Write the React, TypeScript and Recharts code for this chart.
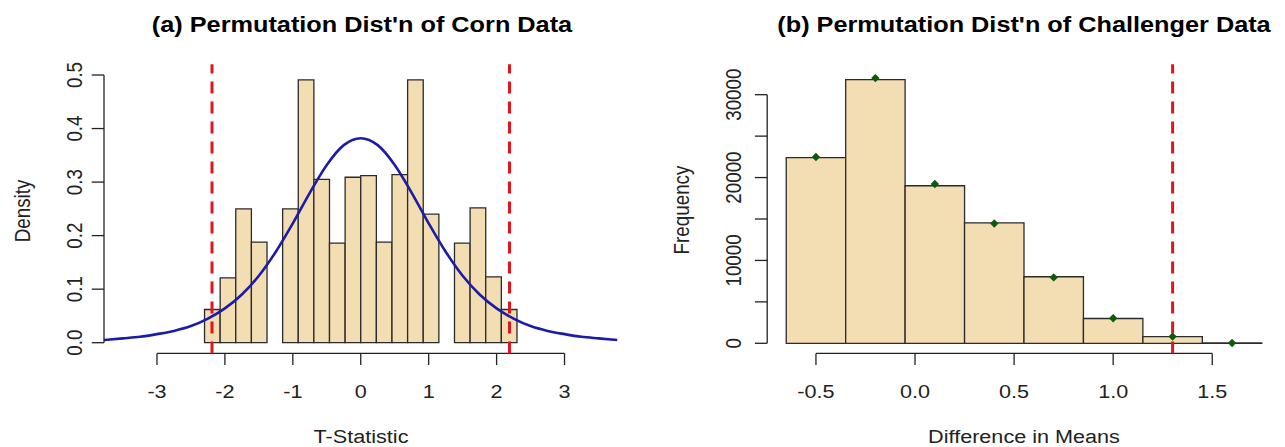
import React from 'react';
import { ComposedChart, Line, Scatter, XAxis, YAxis, ReferenceArea, ReferenceLine } from 'recharts';

const FONT = '"Liberation Sans", Arial, Helvetica, sans-serif';
const STRETCH = 1.15; // the original picture is a bit wider than tall
const INK = '#222';
const WHEAT = '#F3DDB3';

// (a) corn data — histogram bin edges and densities
const cornEdges = [-2.3, -2.07, -1.84, -1.61, -1.38, -1.15, -0.92, -0.69, -0.46, -0.23, 0, 0.23, 0.46, 0.69, 0.92, 1.15, 1.38, 1.61, 1.84, 2.07, 2.3];
const cornDensity = [0.062, 0.121, 0.25, 0.188, 0, 0.25, 0.491, 0.305, 0.186, 0.309, 0.312, 0.188, 0.314, 0.491, 0.24, 0, 0.186, 0.252, 0.123, 0.062];
// overlaid density curve
const curveX = [-3.78, -3.5, -3.25, -3, -2.75, -2.5, -2.25, -2, -1.75, -1.5, -1.25, -1, -0.75, -0.5, -0.25, 0, 0.25, 0.5, 0.75, 1, 1.25, 1.5, 1.75, 2, 2.25, 2.5, 2.75, 3, 3.25, 3.5, 3.78];
const curveY = [0.005, 0.008, 0.011, 0.016, 0.022, 0.031, 0.045, 0.064, 0.09, 0.125, 0.17, 0.223, 0.28, 0.332, 0.369, 0.382, 0.369, 0.332, 0.28, 0.223, 0.17, 0.125, 0.09, 0.064, 0.045, 0.031, 0.022, 0.016, 0.011, 0.008, 0.005];
const cornCutoffs = [-2.19, 2.19];
const cornXTicks = [-3, -2, -1, 0, 1, 2, 3];
const cornYTicks = [0, 0.1, 0.2, 0.3, 0.4, 0.5];

// (b) challenger data — frequency histogram and points
const challEdges = [-0.65, -0.35, -0.05, 0.25, 0.55, 0.85, 1.15, 1.45, 1.75];
const challCounts = [22410, 31810, 19010, 14540, 8030, 2990, 810, 40];
const pointX = [-0.5, -0.2, 0.1, 0.4, 0.7, 1.0, 1.3, 1.6];
const pointY = [22490, 32000, 19220, 14460, 7950, 3030, 810, 40];
const challCutoff = 1.3;
const challXTicks = [-0.5, 0, 0.5, 1, 1.5];
const challYTicks = [0, 5000, 10000, 15000, 20000, 25000, 30000];

const curve = curveX.map((x, i) => ({ x, y: curveY[i] }));
const points = pointX.map((x, i) => ({ x, y: pointY[i] }));

const XTick = (props: any, fmt: (v: number) => string) => (
  <g transform={`translate(${props.x},398.3) scale(${STRETCH},1)`}>
    <text x={0} y={0} textAnchor="middle" fontFamily={FONT} fontSize={18.8} fill={INK}>
      {fmt(props.payload.value)}
    </text>
  </g>
);

const YTick = (props: any, bx: number, show: (v: number) => boolean) => {
  const v = props.payload.value;
  if (!show(v)) return <g />;
  return (
    <g transform={`translate(${bx},${props.y}) scale(${STRETCH},1) rotate(-90)`}>
      <text x={0} y={0} textAnchor="middle" fontFamily={FONT} fontSize={18.8} fill={INK}>
        {Number.isInteger(v) && v !== 0 && v < 1 ? v : v >= 1 || v === 0 && bx > 90 ? String(v) : v.toFixed(1)}
      </text>
    </g>
  );
};

const dash = '12 8';

const CornChart = () => (
  <ComposedChart width={642} height={447} margin={{ top: 64.3, right: 24.5, bottom: 53.6, left: 0 }}>
    <XAxis type="number" dataKey="x" domain={[-3.78, 3.78]} ticks={cornXTicks} allowDataOverflow interval={0}
      axisLine={false} tickLine={{ stroke: INK, strokeWidth: 1.3 }} tickSize={11.7} height={40}
      tick={(p: any) => XTick(p, (v) => String(v))} />
    <YAxis type="number" domain={[-0.02, 0.52]} ticks={cornYTicks} allowDataOverflow interval={0}
      axisLine={false} tickLine={{ stroke: INK, strokeWidth: 1.3 }} tickSize={12.3} width={104}
      tick={(p: any) => YTick(p, 81.5, () => true)} />
    {cornDensity.map((d, i) =>
      d > 0 ? (
        <ReferenceArea key={i} x1={cornEdges[i]} x2={cornEdges[i + 1]} y1={0} y2={d}
          fill={WHEAT} fillOpacity={1} stroke="#2b2b2b" strokeWidth={1.3} ifOverflow="visible" />
      ) : null
    )}
    <Line data={curve} dataKey="y" type="monotone" stroke="#1c1ca8" strokeWidth={2.6} dot={false}
      isAnimationActive={false} />
    <ReferenceLine segment={[{ x: -3, y: -0.02 }, { x: 3, y: -0.02 }]} stroke={INK} strokeWidth={1.3} ifOverflow="visible" />
    <ReferenceLine segment={[{ x: -3.78, y: 0 }, { x: -3.78, y: 0.5 }]} stroke={INK} strokeWidth={1.3} ifOverflow="visible" />
    {cornCutoffs.map((c) => (
      <ReferenceLine key={c} segment={[{ x: c, y: -0.02 }, { x: c, y: 0.52 }]} stroke="#e0161c"
        strokeWidth={3} strokeDasharray={dash} ifOverflow="visible" />
    ))}
  </ComposedChart>
);

const Diamond = (p: any) => {
  const r = 4.2;
  return <path d={`M${p.cx},${p.cy - r}L${p.cx + r},${p.cy}L${p.cx},${p.cy + r}L${p.cx - r},${p.cy}Z`} fill="#0a5c0a" />;
};

const ChallChart = () => (
  <ComposedChart width={643} height={447} margin={{ top: 64.3, right: 4.2, bottom: 53.6, left: 0 }}>
    <XAxis type="number" dataKey="x" domain={[-0.746, 1.846]} ticks={challXTicks} allowDataOverflow interval={0}
      axisLine={false} tickLine={{ stroke: INK, strokeWidth: 1.3 }} tickSize={11.7} height={40}
      tick={(p: any) => XTick(p, (v) => v.toFixed(1))} />
    <YAxis type="number" domain={[-1219, 33668]} ticks={challYTicks} allowDataOverflow interval={0}
      axisLine={false} tickLine={{ stroke: INK, strokeWidth: 1.3 }} tickSize={12.3} width={125.2}
      tick={(p: any) => YTick(p, 98.8, (v) => v % 10000 === 0)} />
    {challCounts.map((c, i) => (
      <ReferenceArea key={i} x1={challEdges[i]} x2={challEdges[i + 1]} y1={0} y2={c}
        fill={WHEAT} fillOpacity={1} stroke="#2b2b2b" strokeWidth={1.3} ifOverflow="visible" />
    ))}
    <ReferenceLine segment={[{ x: -0.5, y: -1219 }, { x: 1.5, y: -1219 }]} stroke={INK} strokeWidth={1.3} ifOverflow="visible" />
    <ReferenceLine segment={[{ x: -0.746, y: 0 }, { x: -0.746, y: 30000 }]} stroke={INK} strokeWidth={1.3} ifOverflow="visible" />
    <ReferenceLine segment={[{ x: challCutoff, y: -1219 }, { x: challCutoff, y: 33668 }]} stroke="#e0161c"
      strokeWidth={3} strokeDasharray={dash} ifOverflow="visible" />
    <Scatter data={points} dataKey="y" shape={Diamond} isAnimationActive={false} />
  </ComposedChart>
);

const HText = ({ x, y, size, bold, children }: any) => (
  <g transform={`translate(${x},${y}) scale(${STRETCH},1)`}>
    <text x={0} y={0} textAnchor="middle" fontFamily={FONT} fontSize={size} fontWeight={bold ? 'bold' : 'normal'} fill={bold ? '#000' : INK}>
      {children}
    </text>
  </g>
);

const VText = ({ x, y, size, children }: any) => (
  <g transform={`translate(${x},${y}) scale(${STRETCH},1) rotate(-90)`}>
    <text x={0} y={0} textAnchor="middle" fontFamily={FONT} fontSize={size} fill={INK}>
      {children}
    </text>
  </g>
);

export default function App() {
  return (
    <div style={{ position: 'absolute', left: 0, top: 0, width: 1285, height: 447, background: '#fff' }}>
      <div style={{ position: 'absolute', left: 0, top: 0 }}>
        <CornChart />
      </div>
      <div style={{ position: 'absolute', left: 642, top: 0 }}>
        <ChallChart />
      </div>
      <svg width={1285} height={447} style={{ position: 'absolute', left: 0, top: 0, pointerEvents: 'none' }}>
        <HText x={362} y={31.7} size={22} bold>(a) Permutation Dist'n of Corn Data</HText>
        <HText x={1024} y={31.7} size={22} bold>(b) Permutation Dist'n of Challenger Data</HText>
        <HText x={361} y={442.5} size={18.8}>T-Statistic</HText>
        <HText x={1024} y={443} size={18.8}>Difference in Means</HText>
        <VText x={30} y={211} size={18.8}>Density</VText>
        <VText x={688.5} y={210} size={18.8}>Frequency</VText>
      </svg>
    </div>
  );
}
